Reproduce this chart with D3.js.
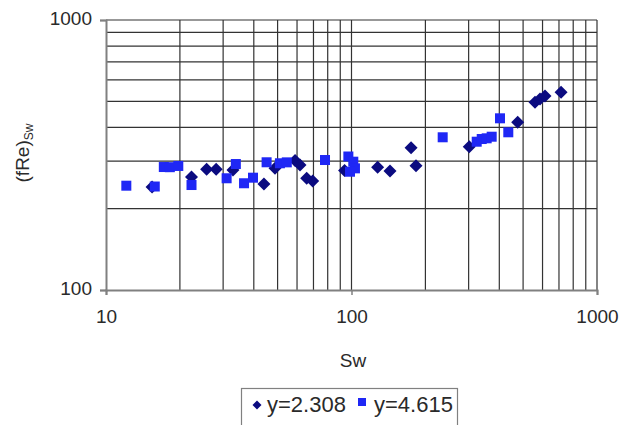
<!DOCTYPE html>
<html><head><meta charset="utf-8">
<script src="https://cdn.jsdelivr.net/npm/d3@7"></script>
<style>body{margin:0;background:#fff}svg{display:block}</style>
</head><body><svg id="c" width="621" height="425"></svg>
<script>
// Series y=2.308 (diamonds): [Sw, (fRe)Sw]
const seriesA_sw  = [15.4, 22.3, 25.7, 28.1, 32.9, 44.0, 48.8, 58.9, 61.7, 65.7, 69.5, 93.7, 127.8, 143.5, 174.8, 183.1, 301.8, 475.4, 559.2, 585.9, 614.1, 713.7];
const seriesA_fre = [240.7, 262.1, 279.9, 279.9, 278.3, 247.0, 282.2, 301.7, 290.4, 259.3, 253.3, 277.1, 284.7, 275.9, 336.5, 288.7, 339.5, 417.9, 495.7, 509.8, 523.0, 539.8];
// Series y=4.615 (squares)
const seriesB_sw  = [12.1, 15.8, 17.2, 18.2, 19.7, 22.3, 31.0, 33.8, 36.5, 39.7, 45.1, 51.1, 54.5, 78.0, 97.1, 101.7, 103.3, 98.6, 235.2, 323.6, 339.2, 355.3, 372.4, 402.6, 435.2];
const seriesB_fre = [243.4, 241.7, 285.4, 285.0, 288.0, 244.8, 259.3, 292.8, 248.5, 260.6, 297.2, 294.7, 297.0, 303.0, 312.2, 298.7, 282.2, 274.2, 367.8, 354.2, 362.4, 364.6, 369.6, 432.4, 383.8];
const xTicks = [10, 100, 1000];
const yTicks = [100, 1000];
const legendLabels = ["y=2.308", "y=4.615"];

const FONT = "Liberation Sans, Arial, sans-serif";
const TXT = "#2a2a2a";
const svg = d3.select("#c");
const x = d3.scaleLog().domain([10, 1000]).range([106, 597]);
const y = d3.scaleLog().domain([100, 1000]).range([290, 20]);

const minors = [];
[10, 100].forEach(d => { for (let k = 1; k <= 10; k++) minors.push(d * k); });
const gx = Array.from(new Set(minors)).filter(v => v > 10);
const gy = gx.filter(v => v > 100 && v <= 1000);

const grid = svg.append("g").attr("stroke", "#333").attr("stroke-width", 1.2);
grid.selectAll("line.v").data(gx).join("line").attr("class", "v")
  .attr("x1", d => x(d)).attr("x2", d => x(d)).attr("y1", y(1000)).attr("y2", y(100));
grid.selectAll("line.h").data(gy).join("line").attr("class", "h")
  .attr("y1", d => y(d)).attr("y2", d => y(d)).attr("x1", x(10)).attr("x2", x(1000));

// axes
const xAxis = d3.axisBottom(x).tickValues(xTicks).tickFormat(d3.format("d")).tickSize(5).tickPadding(12);
const yAxis = d3.axisLeft(y).tickValues(yTicks).tickFormat(d3.format("d")).tickSize(6).tickPadding(8);
const gxA = svg.append("g").attr("transform", "translate(0,290)").call(xAxis);
const gyA = svg.append("g").attr("transform", "translate(106,0)").call(yAxis);
[gxA, gyA].forEach(g => {
  g.select(".domain").attr("stroke", "#808080").attr("stroke-width", 2);
  g.selectAll(".tick line").attr("stroke", "#808080").attr("stroke-width", 1.5);
  g.selectAll("text").attr("font-family", FONT).attr("font-size", 19).attr("fill", TXT);
});
gxA.selectAll("text").attr("dy", "0.82em");
gyA.selectAll("text").attr("dy", "0.22em");

// points
const diamondPath = r => `M0,${-r}L${r},0L0,${r}L${-r},0Z`;
const dataA = seriesA_sw.map((s, i) => [s, seriesA_fre[i]]);
const dataB = seriesB_sw.map((s, i) => [s, seriesB_fre[i]]);
svg.append("g").selectAll("path").data(dataA).join("path")
  .attr("d", diamondPath(6.5)).attr("fill", "#0b0b80")
  .attr("transform", d => `translate(${x(d[0])},${y(d[1])})`);
svg.append("g").selectAll("rect").data(dataB).join("rect")
  .attr("x", d => x(d[0]) - 5).attr("y", d => y(d[1]) - 5).attr("width", 10).attr("height", 10)
  .attr("fill", "#1f27f5");

// titles
svg.append("text").attr("x", 353).attr("y", 367).attr("text-anchor", "middle")
  .attr("font-family", FONT).attr("font-size", 19).attr("fill", TXT).text("Sw");
const yt = svg.append("text").attr("transform", "translate(29,153) rotate(-90)").attr("text-anchor", "middle")
  .attr("font-family", FONT).attr("font-size", 19).attr("fill", TXT);
yt.append("tspan").text("(fRe)");
yt.append("tspan").attr("font-size", 12).attr("dy", 4).text("Sw");

// legend
const lg = svg.append("g");
lg.append("rect").attr("x", 241.5).attr("y", 388.5).attr("width", 216).attr("height", 45)
  .attr("fill", "#fff").attr("stroke", "#808080").attr("stroke-width", 1.2);
lg.append("path").attr("d", diamondPath(4.5)).attr("fill", "#0b0b80")
  .attr("transform", "translate(257,405)");
lg.append("text").attr("x", 267).attr("y", 412).attr("font-family", FONT)
  .attr("font-size", 22).attr("fill", TXT).text(legendLabels[0]);
lg.append("rect").attr("x", 358).attr("y", 398).attr("width", 8).attr("height", 8).attr("fill", "#1f27f5");
lg.append("text").attr("x", 374).attr("y", 412).attr("font-family", FONT)
  .attr("font-size", 22).attr("fill", TXT).text(legendLabels[1]);
</script></body></html>
